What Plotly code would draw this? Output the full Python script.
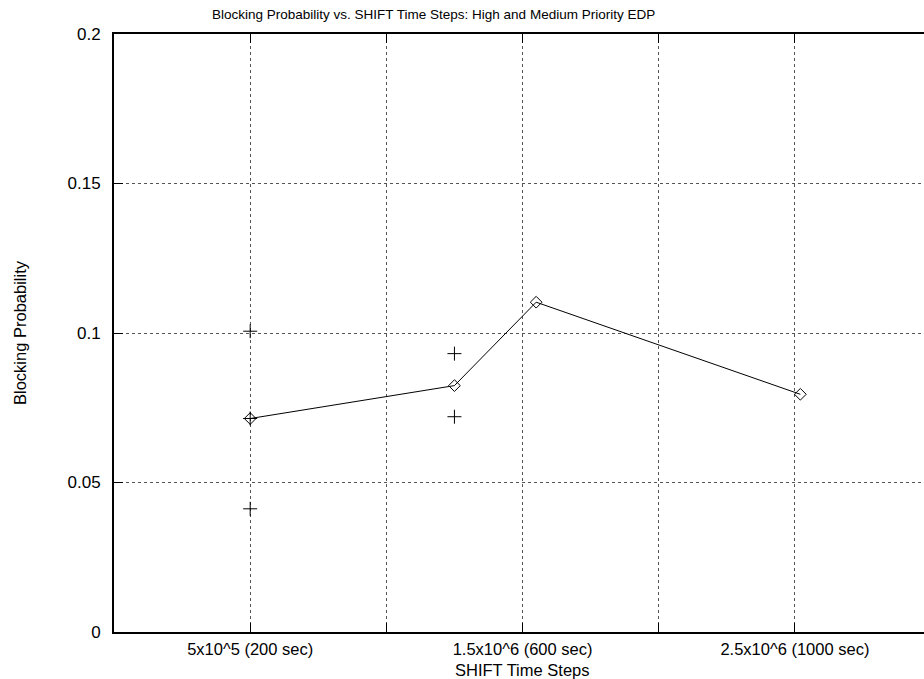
import plotly.graph_objects as go

# Data
line_x = [5e5, 1.25e6, 1.55e6, 2.52e6]
line_y = [0.0714, 0.0824, 0.1103, 0.0795]
pts_x = [5e5, 5e5, 5e5, 1.25e6, 1.25e6]
pts_y = [0.1006, 0.0714, 0.0412, 0.0931, 0.0720]

x_tickvals = [5e5, 1e6, 1.5e6, 2e6, 2.5e6]
x_ticktext = ["5x10^5 (200 sec)", "", "1.5x10^6 (600 sec)", "", "2.5x10^6 (1000 sec)"]
y_tickvals = [0, 0.05, 0.1, 0.15, 0.2]
y_ticktext = ["0", "0.05", "0.1", "0.15", "0.2"]

title = "Blocking Probability vs. SHIFT Time Steps: High and Medium Priority EDP"
x_title = "SHIFT Time Steps"
y_title = "Blocking Probability"

FONT = "Liberation Sans, Arial, sans-serif"

fig = go.Figure()
fig.add_trace(go.Scatter(
    x=pts_x, y=pts_y, mode="markers",
    marker=dict(symbol="cross-thin-open", size=10, color="black",
                line=dict(color="black", width=1)),
    showlegend=False, hoverinfo="skip"))
fig.add_trace(go.Scatter(
    x=line_x, y=line_y, mode="lines+markers",
    line=dict(color="black", width=1),
    marker=dict(symbol="diamond-open", size=9, color="black", line=dict(color="black", width=1)),
    showlegend=False))

fig.update_layout(
    width=924, height=679,
    margin=dict(l=114, r=0, t=34, b=47),
    paper_bgcolor="white", plot_bgcolor="white",
    font=dict(family=FONT, size=17, color="black"),
    xaxis=dict(
        range=[0, 2.974e6], tickvals=x_tickvals, ticktext=x_ticktext,
        showgrid=True, gridcolor="#555", griddash="dot", gridwidth=1,
        zeroline=False, showline=True, linecolor="black", linewidth=2,
        mirror="allticks", ticks="inside", ticklen=9, tickcolor="black",
        tickfont=dict(size=16.5), ticklabelstandoff=1,
    ),
    yaxis=dict(
        range=[0, 0.2], tickvals=y_tickvals, ticktext=y_ticktext,
        showgrid=True, gridcolor="#555", griddash="dot", gridwidth=1,
        zeroline=False, showline=True, linecolor="black", linewidth=2,
        mirror=False, ticks="inside", ticklen=9, tickcolor="black",
        tickfont=dict(size=17), ticklabelstandoff=8,
    ),
    annotations=[
        dict(text=title, x=433, y=15, showarrow=False,
             font=dict(size=13.5), xanchor="center", yanchor="middle"),
        dict(text=x_title, x=522, y=670, showarrow=False,
             font=dict(size=16.5), xanchor="center", yanchor="middle"),
        dict(text=y_title, x=20, y=333, showarrow=False, textangle=-90,
             font=dict(size=16.5), xanchor="center", yanchor="middle"),
    ],
)

# convert pixel positions of annotations to paper coords
pw = 924 - 114 - 0
ph = 679 - 34 - 47
new_ann = []
for a in fig.layout.annotations:
    a = a.to_plotly_json()
    px, py = a["x"], a["y"]
    a["xref"] = "paper"
    a["yref"] = "paper"
    a["x"] = (px - 114) / pw
    a["y"] = (679 - 47 - py) / ph
    new_ann.append(a)
fig.layout.annotations = new_ann

fig.write_html("out.html")
